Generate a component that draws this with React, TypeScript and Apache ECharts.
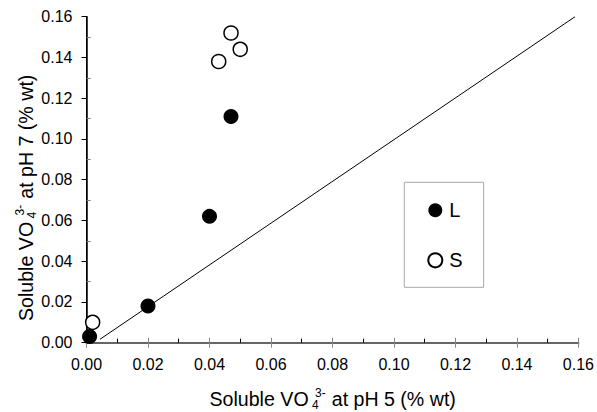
import React, { useEffect, useRef } from "react";
import * as echarts from "echarts";

const seriesNames = ["L", "S"];
const lX = [0.001, 0.02, 0.04, 0.047];
const lY = [0.003, 0.018, 0.062, 0.111];
const sX = [0.002, 0.043, 0.047, 0.05];
const sY = [0.01, 0.138, 0.152, 0.144];
const refLineX = [0.0044, 0.1589];
const refLineY = [0.0017, 0.16];
const axisMin = 0;
const axisMax = 0.16;
const axisStep = 0.02;
const titleMain = "Soluble VO";
const titleSub = "4";
const titleSup = "3-";
const xTitleRest = " at pH 5 (% wt)";
const yTitleRest = " at pH 7 (% wt)";

const FONT = "Liberation Sans";

function measure(text: string, size: number): number {
  const c = document.createElement("canvas").getContext("2d");
  if (!c) return text.length * size * 0.55;
  c.font = `${size}px "${FONT}"`;
  return c.measureText(text).width;
}

function titleChildren(rest: string) {
  const big = 19.6;
  const small = 12;
  const w1 = measure(titleMain, big);
  const wSup = measure(titleSup, small);
  const t = (text: string, x: number, y: number, size: number) => ({
    type: "text",
    x,
    y,
    silent: true,
    style: {
      text,
      fill: "#000",
      fontSize: size,
      fontFamily: FONT,
      textAlign: "left",
      textVerticalAlign: "middle",
    },
  });
  return [
    t(titleMain, 0, -7, big),
    t(titleSub, w1 + 3.5, -1.5, small),
    t(titleSup, w1 + 6.5, -13.5, small),
    t(rest, w1 + 6.5 + wSup + 0.5, -7, big),
  ];
}

export default function App() {
  const ref = useRef<HTMLDivElement>(null);
  useEffect(() => {
    document.body.style.margin = "0";
    if (!ref.current) return;
    const chart = echarts.init(ref.current, undefined, { renderer: "svg" });
    const fmt = (v: number) => v.toFixed(2);
    const baseAxis = {
      type: "value",
      min: axisMin,
      max: axisMax,
      interval: axisStep,
      splitLine: { show: false },
    };
    const option: any = {
      animation: false,
      backgroundColor: "#fff",
      textStyle: { fontFamily: FONT },
      grid: { left: 86.5, right: 18.5, top: 16.7, bottom: 69.3, containLabel: false },
      xAxis: [
        {
          ...baseAxis,
          position: "bottom",
          axisLine: { show: true, lineStyle: { color: "#000", width: 1.5 } },
          axisTick: { show: true, inside: false, length: 5, lineStyle: { color: "#888", width: 1 } },
          minorTick: { show: false },
          axisLabel: { color: "#000", fontSize: 16, fontFamily: FONT, margin: 14, formatter: fmt },
        },
        {
          ...baseAxis,
          position: "bottom",
          axisLine: { show: false },
          axisTick: { show: true, inside: true, length: 5, lineStyle: { color: "#888", width: 1 } },
          minorTick: { show: true, splitNumber: 2, length: 4, lineStyle: { color: "#000", width: 1 } },
          axisLabel: { show: false },
        },
        {
          ...baseAxis,
          position: "top",
          axisLine: { show: true, lineStyle: { color: "#666", width: 2 } },
          axisTick: { show: false },
          axisLabel: { show: false },
        },
      ],
      yAxis: [
        {
          ...baseAxis,
          position: "left",
          axisLine: { show: true, lineStyle: { color: "#000", width: 1.5 } },
          axisTick: { show: true, inside: false, length: 5, lineStyle: { color: "#000", width: 1 } },
          minorTick: { show: false },
          axisLabel: { color: "#000", fontSize: 16, fontFamily: FONT, margin: 14, formatter: fmt },
        },
        {
          ...baseAxis,
          position: "left",
          axisLine: { show: false },
          axisTick: { show: false, inside: true },
          minorTick: { show: true, splitNumber: 2, length: 4, lineStyle: { color: "#777", width: 1 } },
          axisLabel: { show: false },
        },
        {
          ...baseAxis,
          position: "right",
          axisLine: { show: true, lineStyle: { color: "#000", width: 1 } },
          axisTick: { show: false },
          axisLabel: { show: false },
        },
      ],
      legend: {
        show: true,
        orient: "vertical",
        left: 404.3,
        top: 182.3,
        data: seriesNames,
        padding: [18, 21, 17, 23],
        itemGap: 30,
        itemWidth: 14,
        itemHeight: 14,
        borderColor: "#a8a8a8",
        borderWidth: 1,
        textStyle: { color: "#000", fontSize: 20, fontFamily: FONT, lineHeight: 20, padding: [0, 0, 0, 2] },
      },
      series: [
        {
          name: "ref",
          type: "line",
          data: refLineX.map((x, i) => [x, refLineY[i]]),
          symbol: "none",
          lineStyle: { color: "#000", width: 1 },
          z: 1,
          silent: true,
        },
        {
          name: seriesNames[0],
          type: "scatter",
          data: lX.map((x, i) => [x, lY[i]]),
          symbol: "circle",
          symbolSize: 15,
          itemStyle: { color: "#000", borderColor: "#000", borderWidth: 0, opacity: 1 },
          z: 4,
        },
        {
          name: seriesNames[1],
          type: "scatter",
          data: sX.map((x, i) => [x, sY[i]]),
          symbol: "circle",
          symbolSize: 14,
          itemStyle: { color: "#fff", borderColor: "#000", borderWidth: 1.5, opacity: 1 },
          z: 3,
        },
      ],
      graphic: [
        { type: "group", x: 209.5, y: 406, silent: true, children: titleChildren(xTitleRest) },
        { type: "group", x: 33.3, y: 321, rotation: Math.PI / 2, silent: true, children: titleChildren(yTitleRest) },
      ],
    };
    chart.setOption(option);
    return () => chart.dispose();
  }, []);
  return <div ref={ref} style={{ width: 597, height: 412 }} />;
}
